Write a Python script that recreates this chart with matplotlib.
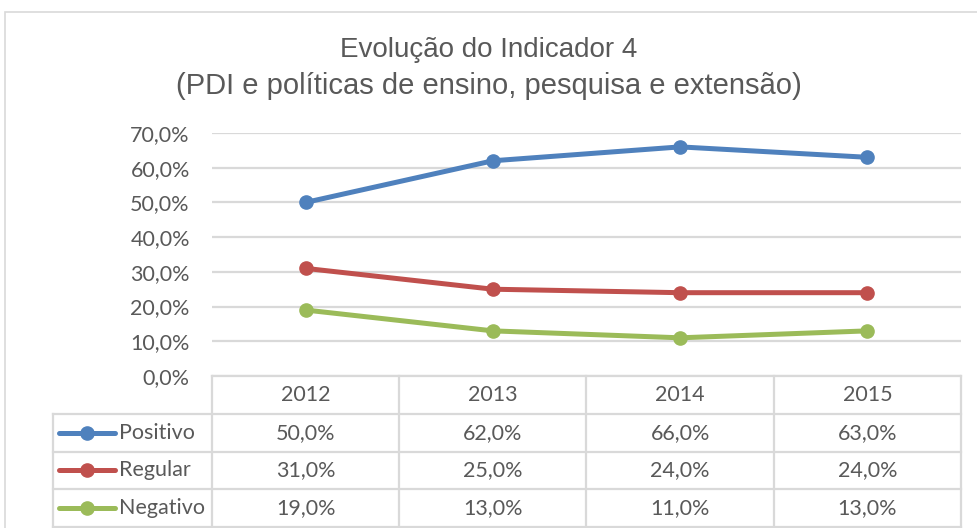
import matplotlib.pyplot as plt
from matplotlib.patches import Rectangle

years = ['2012', '2013', '2014', '2015']
series_names = ['Positivo', 'Regular', 'Negativo']
positivo = [0.50, 0.62, 0.66, 0.63]
regular = [0.31, 0.25, 0.24, 0.24]
negativo = [0.19, 0.13, 0.11, 0.13]
colors = ['#4F81BD', '#C0504D', '#9BBB59']
y_ticks = [0.0, 0.1, 0.2, 0.3, 0.4, 0.5, 0.6, 0.7]

W, H = 978, 528
text_color = '#595959'
grid_color = '#D9D9D9'
tick_font = 'Lato'
fs = 15.5


def fig_box(x0, y0, x1, y1):
    # pixel box (top-left origin) -> figure fraction [left, bottom, width, height]
    return [x0 / W, 1 - y1 / H, (x1 - x0) / W, (y1 - y0) / H]


def pct(v):
    return f'{v * 100:.1f}%'.replace('.', ',')


fig = plt.figure(figsize=(W / 100, H / 100), dpi=100)

# chart border
fig.patches.append(Rectangle((5 / W, -0.1), 1.2, 1 - 12 / H + 0.1, transform=fig.transFigure,
                             fill=False, edgecolor='#D9D9D9', lw=1.2))

fig.text(0.5, 1 - 50 / H, 'Evolução do Indicador 4', ha='center', va='center',
         fontsize=20, color=text_color, family='Liberation Sans')
fig.text(0.5, 1 - 86 / H, '(PDI e políticas de ensino, pesquisa e extensão)', ha='center', va='center',
         fontsize=21, color=text_color, family='Liberation Sans')

# line plot
ax = fig.add_axes(fig_box(212, 133, 961, 376))
xs = range(len(years))
for vals, c in zip([positivo, regular, negativo], colors):
    ax.plot(xs, vals, color=c, lw=3.6, marker='o', markersize=9.5, solid_capstyle='round', zorder=3)
ax.set_xlim(-0.5, len(years) - 0.5)
ax.set_ylim(0, 0.7)
ax.set_yticks(y_ticks)
ax.set_yticklabels([pct(v) for v in y_ticks], fontsize=fs, color=text_color, family=tick_font)
ax.tick_params(axis='y', length=0, pad=16)
ax.set_xticks([])
ax.grid(axis='y', color=grid_color, lw=1.6)
ax.set_axisbelow(True)
for s in ax.spines.values():
    s.set_visible(False)

# data table
tab = fig.add_axes(fig_box(212, 376, 961, 527), sharex=ax)
tab.set_ylim(4, 0)
tab.axis('off')
left = -0.5 - (212 - 53) / 187.25
n = len(years)
kw = dict(color=grid_color, lw=1.6, clip_on=False)
tab.plot([-0.5, n - 0.5], [0, 0], **kw)
for r in range(1, 5):
    tab.plot([left, n - 0.5], [r, r], **kw)
tab.plot([left, left], [1, 4.05], **kw)
for i in range(n + 1):
    tab.plot([i - 0.5, i - 0.5], [0, 4.05], **kw)

for i, y in enumerate(years):
    tab.text(i, 0.5, y, ha='center', va='center', fontsize=fs, color=text_color, family=tick_font)
for r, (name, vals, c) in enumerate(zip(series_names, [positivo, regular, negativo], colors)):
    row = r + 1.5
    for i, v in enumerate(vals):
        tab.text(i, row, pct(v), ha='center', va='center',
                 fontsize=fs, color=text_color, family=tick_font)
    kx0 = left + 6 / 187.25
    kx1 = left + 62 / 187.25
    tab.plot([kx0, kx1], [row, row], color=c, lw=3.6, solid_capstyle='round', clip_on=False)
    tab.plot([(kx0 + kx1) / 2], [row], 'o', color=c, markersize=9.5, clip_on=False)
    tab.text(left + 66 / 187.25, row, name, ha='left', va='center',
             fontsize=fs, color=text_color, family=tick_font)

fig.savefig('out.png', dpi=100)
